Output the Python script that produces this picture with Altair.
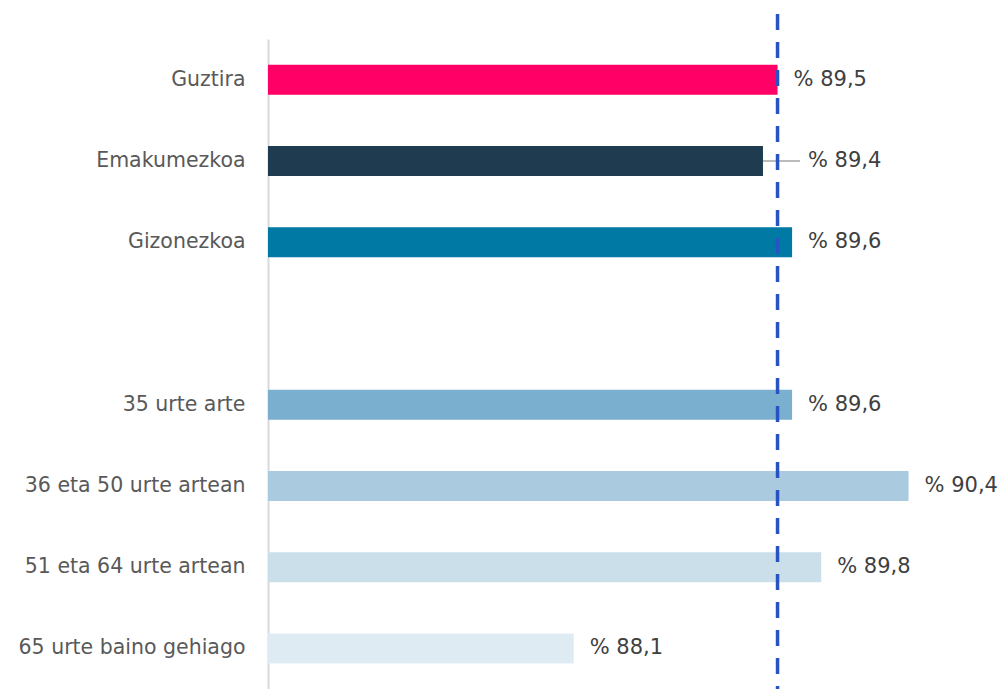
import altair as alt
import pandas as pd

categories = ["Guztira ", "Emakumezkoa", "Gizonezkoa", " ", "35 urte arte",
              "36 eta 50 urte artean", "51 eta 64 urte artean", "65 urte baino gehiago"]
bar_categories = ["Guztira ", "Emakumezkoa", "Gizonezkoa", "35 urte arte",
                  "36 eta 50 urte artean", "51 eta 64 urte artean", "65 urte baino gehiago"]
values = [89.5, 89.4, 89.6, 89.6, 90.4, 89.8, 88.1]
labels = ["% 89,5", "% 89,4", "% 89,6", "% 89,6", "% 90,4", "% 89,8", "% 88,1"]
colors = ["#FF0066", "#1E3B4F", "#0079A5", "#7BAFD0", "#AACBDF", "#CADFEA", "#DFEBF3"]
reference_value = 89.5
axis_min = 86
axis_max = 90.98

df = pd.DataFrame({"cat": bar_categories, "value": values, "label": labels,
                   "color": colors, "start": [axis_min] * len(values)})
df_main = df[df["cat"] != "Emakumezkoa"]
df_ema = df[df["cat"] == "Emakumezkoa"]

FONT = "DejaVu Sans"

x = alt.X("value:Q", scale=alt.Scale(domain=[axis_min, axis_max], zero=False, nice=False), axis=None)
y = alt.Y("cat:N", sort=categories, scale=alt.Scale(domain=categories),
          axis=alt.Axis(title=None, ticks=False, labelPadding=23, labelFontSize=20.5,
                        labelFont=FONT, labelColor="#595959", domainColor="#D9D9D9",
                        domainWidth=2, labelLimit=300))

bars = alt.Chart(df).mark_bar(size=30).encode(
    x=x, x2="start:Q", y=y, color=alt.Color("color:N", scale=None)
)

text_main = alt.Chart(df_main).mark_text(
    align="left", baseline="middle", dx=16, fontSize=21, font=FONT, color="#404040"
).encode(x="value:Q", y=alt.Y("cat:N", sort=categories), text="label:N")

leader = alt.Chart(df_ema).mark_rule(color="#A6A6A6", strokeWidth=1.5).encode(
    x="value:Q", x2=alt.value(532), y=alt.Y("cat:N", sort=categories)
)

text_ema = alt.Chart(df_ema).mark_text(
    align="left", baseline="middle", dx=45, fontSize=21, font=FONT, color="#404040"
).encode(x="value:Q", y=alt.Y("cat:N", sort=categories), text="label:N")

ref = alt.Chart(pd.DataFrame({"ref": [reference_value]})).mark_rule(
    color="#2853C2", strokeWidth=3.5, strokeDash=[16, 12]
).encode(x=alt.X("ref:Q"), y=alt.value(-25), y2=alt.value(660))

chart = alt.layer(bars, leader, ref, text_main, text_ema).properties(
    width=725, height=650,
    autosize=alt.AutoSizeParams(type="none"),
    padding={"left": 260, "top": 31, "right": 5, "bottom": 0},
).configure_view(stroke=None, clip=False).configure_axis(grid=False)

chart.save("out.html", embed_options={"renderer": "svg", "actions": False})
